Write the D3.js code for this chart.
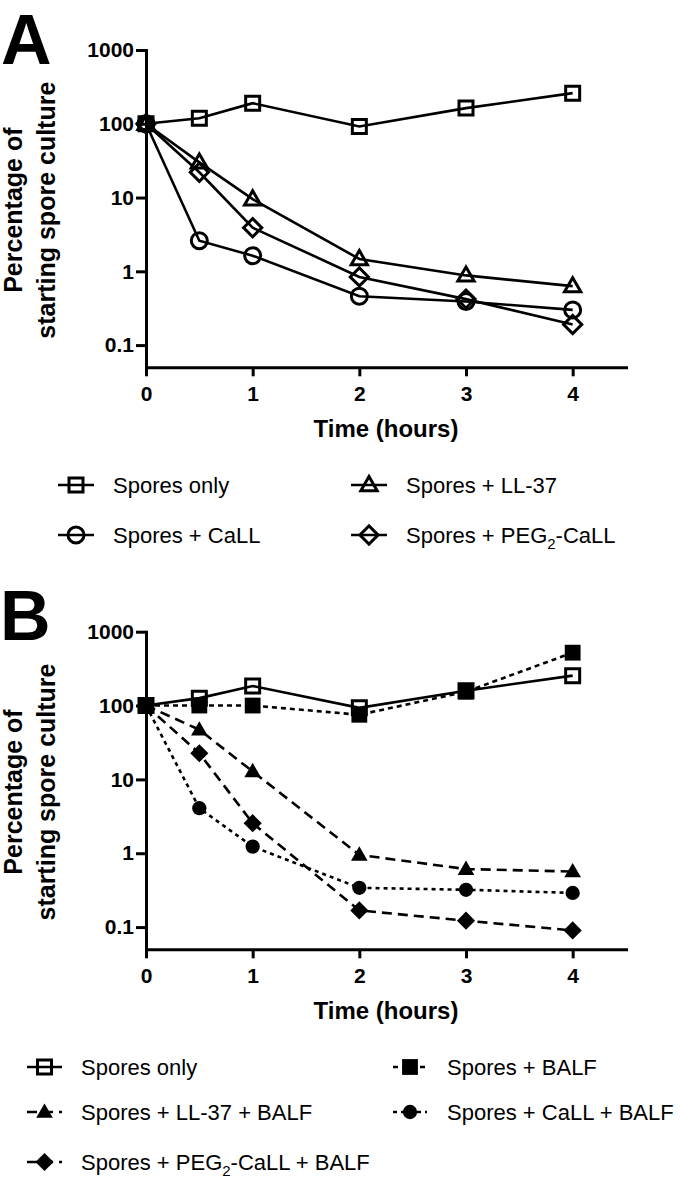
<!DOCTYPE html>
<html>
<head>
<meta charset="utf-8">
<script src="https://cdn.jsdelivr.net/npm/d3@7/dist/d3.min.js"></script>
<style>
  html, body { margin: 0; padding: 0; background: #fff; }
  svg { display: block; }
  text { font-family: "Liberation Sans", Arial, Helvetica, sans-serif; fill: #000; }
</style>
</head>
<body>
<svg id="chart" width="680" height="1181"></svg>
<script>
// ---------- data ----------
const times = [0, 0.5, 1, 2, 3, 4];
const xTicks = [0, 1, 2, 3, 4];
const yTicks = [0.1, 1, 10, 100, 1000];
const yTickLabels = ["0.1", "1", "10", "100", "1000"];

// Panel A
const A_sporesOnly = [100, 119, 190, 92, 163, 260];
const A_LL37       = [100, 30, 9.5, 1.47, 0.88, 0.63];
const A_CaLL       = [100, 2.6, 1.63, 0.46, 0.39, 0.30];
const A_PEGCaLL    = [100, 22, 3.9, 0.84, 0.42, 0.19];

// Panel B
const B_sporesOnly = [100, 126, 184, 93, 159, 254];
const B_BALF       = [100, 100, 100, 75, 154, 520];
const B_LL37BALF   = [100, 47, 12.8, 0.95, 0.61, 0.565];
const B_CaLLBALF   = [100, 4.07, 1.23, 0.34, 0.32, 0.29];
const B_PEGBALF    = [100, 22.6, 2.55, 0.168, 0.122, 0.09];

const xLabel = "Time (hours)";
const yLabel1 = "Percentage of";
const yLabel2 = "starting spore culture";

// ---------- drawing ----------
const svg = d3.select("#chart");
svg.append("rect").attr("width", 680).attr("height", 1181).attr("fill", "#fff");

const FONT = '"Liberation Sans", Arial, Helvetica, sans-serif';

function markerPath(type, filled) {
  if (type === "square") return d3.symbol().type(d3.symbolSquare).size(filled ? 250 : 196)();
  if (type === "circle") return d3.symbol().type(d3.symbolCircle).size(filled ? 160 : 201)();
  if (type === "triangle") return d3.symbol().type(d3.symbolTriangle).size(filled ? 120 : 115)();
  if (type === "diamond") return d3.symbol().type(d3.symbolSquare).size(165)();
}

function drawMarker(sel, s) {
  return sel.append("path")
    .attr("d", markerPath(s.marker, s.filled))
    .attr("fill", s.filled ? "#000" : "none")
    .attr("stroke", s.filled ? "none" : "#000")
    .attr("stroke-width", s.filled ? 0 : 3)
    .attr("stroke-linejoin", "miter");
}

function markerTransform(s, x, y) {
  let t = `translate(${x},${y})`;
  if (s.marker === "diamond") t += " rotate(45)";
  if (s.marker === "triangle") t += " translate(0,1)";
  return t;
}

function addLabelText(sel, label) {
  const parts = label.split("PEG2");
  if (parts.length === 1) { sel.text(label); return; }
  sel.append("tspan").text(parts[0] + "PEG");
  sel.append("tspan").text("2").attr("font-size", "15px").attr("dy", 6);
  sel.append("tspan").text(parts[1]).attr("dy", -6);
}

function drawPanel(cfg) {
  const g = svg.append("g");
  const x = d3.scaleLinear().domain([0, 4.5]).range([146, 626]);
  const y = d3.scaleLog().domain([0.05, 1000]).range([cfg.axisY, cfg.topY]);

  g.append("text").attr("x", cfg.letterX).attr("y", cfg.letterY)
    .attr("font-size", "70px").attr("font-weight", "bold").text(cfg.letter);

  const yAxis = d3.axisLeft(y).tickValues(yTicks)
    .tickFormat((d, i) => yTickLabels[i]).tickSize(10).tickSizeOuter(0).tickPadding(2);
  const xAxis = d3.axisBottom(x).tickValues(xTicks)
    .tickFormat(d3.format("d")).tickSize(9).tickSizeOuter(0).tickPadding(10);

  const gy = g.append("g").attr("transform", `translate(146,0)`).call(yAxis);
  const gx = g.append("g").attr("transform", `translate(0,${cfg.axisY})`).call(xAxis);
  [gx, gy].forEach(a => {
    a.select(".domain").attr("stroke", "#000").attr("stroke-width", 3).attr("stroke-linecap", "square");
    a.selectAll(".tick line").attr("stroke", "#000").attr("stroke-width", 3);
    a.selectAll(".tick text").attr("font-family", FONT).attr("font-size", "21px")
      .attr("font-weight", "bold").attr("fill", "#000");
  });

  g.append("text").attr("x", 386).attr("y", cfg.axisY + 69.5)
    .attr("text-anchor", "middle").attr("font-size", "24px").attr("font-weight", "bold").text(xLabel);
  const cy = (cfg.axisY + cfg.topY) / 2 + 1.5;
  g.append("text").attr("transform", `translate(22,${cy}) rotate(-90)`)
    .attr("text-anchor", "middle").attr("font-size", "25px").attr("font-weight", "bold").text(yLabel1);
  g.append("text").attr("transform", `translate(55,${cy}) rotate(-90)`)
    .attr("text-anchor", "middle").attr("font-size", "25px").attr("font-weight", "bold").text(yLabel2);

  const line = d3.line().x((d, i) => x(times[i])).y(d => y(d));
  cfg.series.forEach(s => {
    g.append("path").datum(s.values).attr("d", line)
      .attr("fill", "none").attr("stroke", "#000").attr("stroke-width", 2.6)
      .attr("stroke-dasharray", s.dash || null);
  });
  cfg.series.forEach(s => {
    const mg = g.append("g");
    s.values.forEach((v, i) => {
      const m = mg.append("g").attr("transform", markerTransform(s, x(times[i]), y(v)));
      drawMarker(m, s);
    });
  });

  cfg.series.forEach((s, k) => {
    const pos = cfg.legendPos[k];
    const lg = g.append("g");
    lg.append("line").attr("x1", pos.x0).attr("x2", pos.x1)
      .attr("y1", pos.y - 8).attr("y2", pos.y - 8)
      .attr("stroke", "#000").attr("stroke-width", 2.6)
      .attr("stroke-dasharray", s.dash || null);
    const m = lg.append("g").attr("transform", markerTransform(s, (pos.x0 + pos.x1) / 2, pos.y - 8));
    drawMarker(m, s);
    const t = lg.append("text").attr("x", pos.tx).attr("y", pos.y).attr("font-size", "22px");
    addLabelText(t, s.label);
  });
}

drawPanel({
  letter: "A", letterX: 1, letterY: 64,
  topY: 50, axisY: 367.3,
  series: [
    { label: "Spores only", values: A_sporesOnly, marker: "square", filled: false },
    { label: "Spores + LL-37", values: A_LL37, marker: "triangle", filled: false },
    { label: "Spores + CaLL", values: A_CaLL, marker: "circle", filled: false },
    { label: "Spores + PEG2-CaLL", values: A_PEGCaLL, marker: "diamond", filled: false }
  ],
  legendPos: [
    { x0: 58, x1: 94, tx: 113, y: 493 },
    { x0: 351, x1: 387, tx: 406, y: 493 },
    { x0: 58, x1: 94, tx: 113, y: 543 },
    { x0: 351, x1: 387, tx: 406, y: 543 }
  ]
});

drawPanel({
  letter: "B", letterX: 0, letterY: 640,
  topY: 631.7, axisY: 949.3,
  series: [
    { label: "Spores only", values: B_sporesOnly, marker: "square", filled: false },
    { label: "Spores + BALF", values: B_BALF, marker: "square", filled: true, dash: "5,4" },
    { label: "Spores + LL-37 + BALF", values: B_LL37BALF, marker: "triangle", filled: true, dash: "10,6" },
    { label: "Spores + CaLL + BALF", values: B_CaLLBALF, marker: "circle", filled: true, dash: "4,4" },
    { label: "Spores + PEG2-CaLL + BALF", values: B_PEGBALF, marker: "diamond", filled: true, dash: "10,6" }
  ],
  legendPos: [
    { x0: 27, x1: 62, tx: 81, y: 1075 },
    { x0: 393, x1: 427, tx: 447, y: 1075 },
    { x0: 27, x1: 62, tx: 81, y: 1120 },
    { x0: 393, x1: 427, tx: 447, y: 1120 },
    { x0: 27, x1: 62, tx: 81, y: 1170 }
  ]
});
</script>
</body>
</html>
